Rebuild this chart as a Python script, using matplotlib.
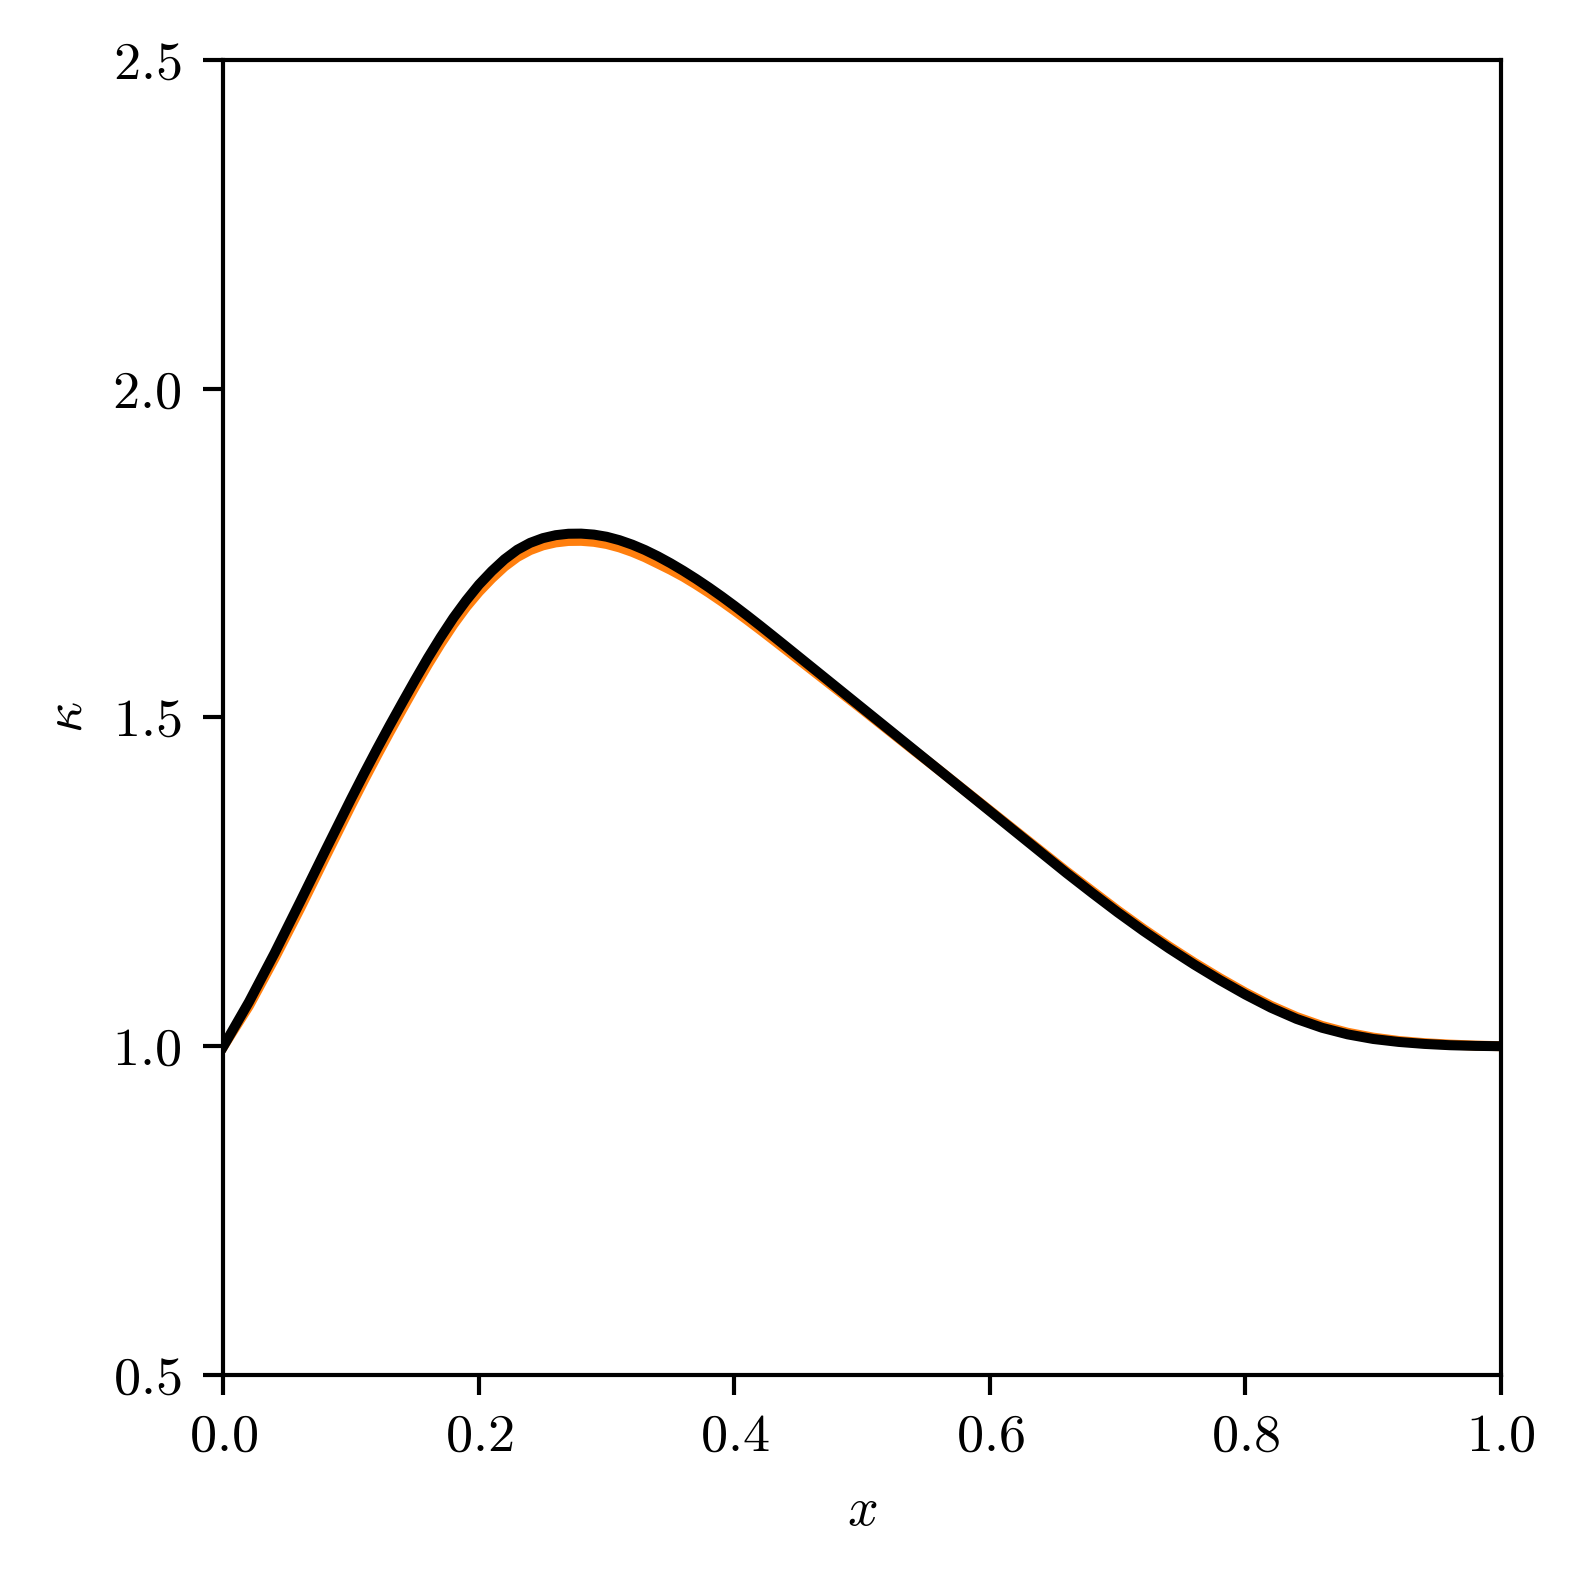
import matplotlib
matplotlib.use("Agg")
import matplotlib.pyplot as plt

plt.rcParams["font.family"] = "serif"
plt.rcParams["font.serif"] = ["cmr10", "DejaVu Serif"]
plt.rcParams["mathtext.fontset"] = "cm"
plt.rcParams["axes.formatter.use_mathtext"] = True
plt.rcParams["axes.linewidth"] = 1.0

# curve samples
x_vals = [0.00, 0.02, 0.04, 0.06, 0.08, 0.10, 0.11, 0.12, 0.13, 0.14, 0.15, 0.16,
          0.17, 0.18, 0.19, 0.20, 0.21, 0.22, 0.23, 0.24, 0.25, 0.26,
          0.27, 0.28, 0.29, 0.30, 0.31, 0.32, 0.33, 0.34, 0.35, 0.36,
          0.37, 0.38, 0.39, 0.40, 0.41, 0.42, 0.43, 0.44,
          0.46, 0.48, 0.50, 0.52, 0.54, 0.56, 0.58, 0.60, 0.62, 0.64,
          0.66, 0.68, 0.70, 0.72, 0.74, 0.76, 0.78, 0.80, 0.82, 0.84,
          0.86, 0.88, 0.90, 0.92, 0.94, 0.96, 0.98, 1.00]

kappa_exact = [1.000, 1.0615, 1.1335, 1.2095, 1.2885, 1.3665, 1.4045, 1.4415, 1.4775, 1.5125, 1.547, 1.5805,
               1.612, 1.6415, 1.668, 1.6912, 1.7115, 1.7295, 1.744, 1.7545, 1.7617, 1.7662,
               1.7684, 1.7686, 1.7671, 1.7638, 1.7586, 1.7518, 1.7436, 1.7341, 1.7245, 1.714,
               1.7022, 1.6897, 1.6765, 1.6627, 1.6484, 1.6337, 1.6187, 1.6036,
               1.5732, 1.5428, 1.5124, 1.4815, 1.4506, 1.4202, 1.3893, 1.3584, 1.3275, 1.2966,
               1.2657, 1.236, 1.2065, 1.1785, 1.152, 1.127, 1.1035, 1.0815, 1.0615, 1.0445,
               1.0308, 1.0205, 1.0131, 1.0080, 1.0047, 1.0025, 1.0010, 1.000]

kappa_fit = [1.000, 1.0675, 1.1415, 1.2195, 1.2985, 1.3765, 1.4145, 1.4515, 1.4875, 1.5225, 1.557, 1.5905,
             1.622, 1.6515, 1.678, 1.702, 1.7225, 1.7405, 1.755, 1.7655, 1.7727, 1.7772,
             1.7794, 1.7796, 1.7781, 1.7748, 1.7696, 1.7628, 1.7546, 1.7451, 1.7345, 1.723,
             1.7107, 1.6977, 1.684, 1.6697, 1.6549, 1.6397, 1.6242, 1.6086,
             1.5772, 1.5458, 1.5144, 1.483, 1.4516, 1.4202, 1.3888, 1.3574, 1.326, 1.2946,
             1.2632, 1.233, 1.2035, 1.1755, 1.149, 1.124, 1.1005, 1.0785, 1.0585, 1.0415,
             1.028, 1.018, 1.011, 1.0065, 1.0035, 1.0015, 1.0005, 1.000]

fig = plt.figure(figsize=(1577 / 300, 1577 / 300), dpi=300)
ax = fig.add_axes([0.1417, 0.1281, 0.8101, 0.8339])

ax.plot(x_vals, kappa_exact, color="#ff7f0e", lw=2.4, solid_joinstyle="round")
ax.plot(x_vals, kappa_fit, color="black", lw=2.4, solid_joinstyle="round")

ax.set_xlim(0, 1)
ax.set_ylim(0.5, 2.5)
ax.set_xticks([0.0, 0.2, 0.4, 0.6, 0.8, 1.0])
ax.set_yticks([0.5, 1.0, 1.5, 2.0, 2.5])
ax.tick_params(labelsize=13, length=4.7, width=1.0)
ax.tick_params(axis="x", pad=4.5)
ax.tick_params(axis="y", pad=5.5)
ax.set_xlabel(r"$x$", fontsize=13, va="center")
ax.set_ylabel(r"$\kappa$", fontsize=13, va="center", ha="center")
ax.xaxis.set_label_coords(0.5, -0.104)
ax.yaxis.set_label_coords(-0.1217, 0.5)

fig.savefig("out.png", dpi=300)
